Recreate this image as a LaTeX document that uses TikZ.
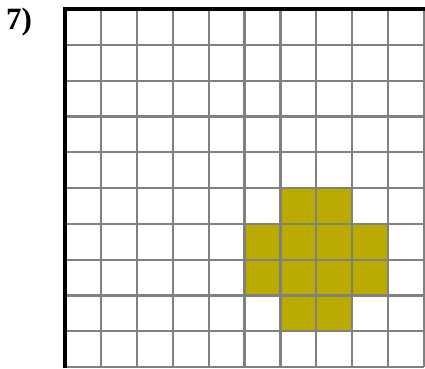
\documentclass[tikz,border=0pt]{standalone}
\usepackage{fontspec}
\setmainfont{Liberation Serif}
\definecolor{cellfill}{RGB}{187,170,0}
\definecolor{gridgray}{RGB}{128,128,128}

\begin{document}
\begin{tikzpicture}[
      x=1pt, y=-1pt,
      gridline/.style={draw=gridgray, line width=2.2pt},
      frame/.style={draw=black, line width=3.2pt},
      cell/.style={fill=cellfill}
    ]
    \useasboundingbox (0,0) rectangle (425,368);
    \def\cw{35.9}
    \def\ch{35.8}
    % shaded cells (column/row, counted from top left)
    \foreach \c/\r in {6/5,7/5,5/6,6/6,7/6,8/6,5/7,6/7,7/7,8/7,6/8,7/8}
      \fill[cell] (65+\c*\cw, 9+\r*\ch) rectangle ++(\cw,\ch);
    % grid
    \foreach \i in {1,...,10}
      \draw[gridline] (65+\i*\cw, 9) -- (65+\i*\cw, 367);
    \foreach \j in {1,...,10}
      \draw[gridline] (65, 9+\j*\ch) -- (424, 9+\j*\ch);
    \draw[frame] (65,368) -- (65,9) -- (425,9);
    \node[anchor=north west, inner sep=0pt, font=\bfseries\fontsize{31}{31}\selectfont]
      (label) at (6,8) {7)};
  \end{tikzpicture}
\end{document}
